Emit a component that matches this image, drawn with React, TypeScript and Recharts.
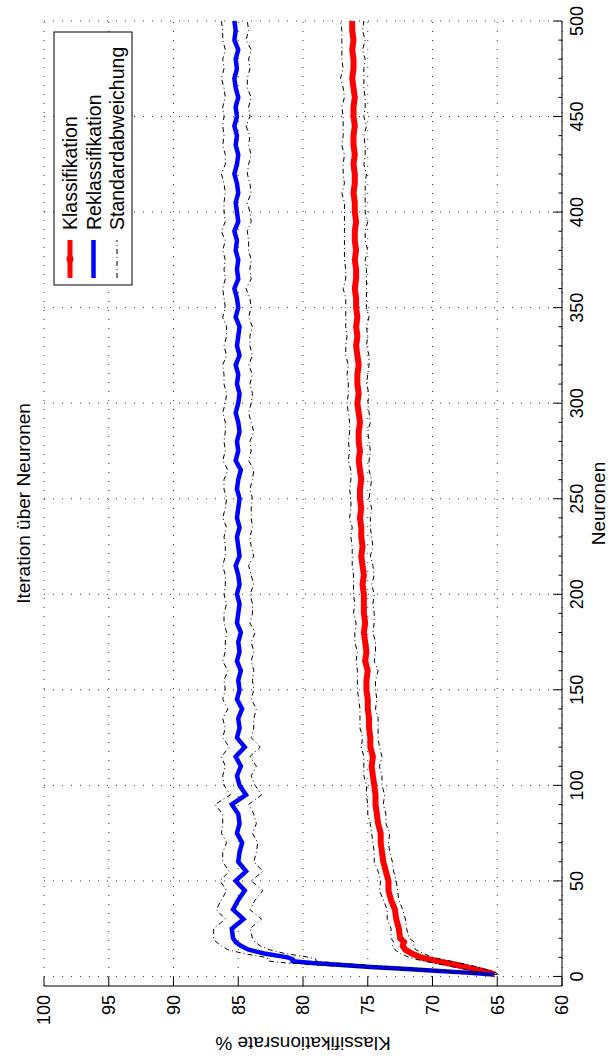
import React from "react";
import { CartesianGrid, Line, LineChart, XAxis, YAxis } from "recharts";

// Neuronen (x) values
const neurons = [
  1, 2, 3, 4, 5, 6, 7, 8, 9, 10, 12, 14, 16, 18, 20,
  25, 30, 35, 40, 45, 50, 55, 60, 65, 70, 75, 80, 85, 90, 95, 100,
  105, 110, 115, 120, 125, 130, 135, 140, 145, 150,
  155, 160, 165, 170, 175, 180, 185, 190, 195, 200,
  205, 210, 215, 220, 225, 230, 235, 240, 245, 250,
  255, 260, 265, 270, 275, 280, 285, 290, 295, 300,
  305, 310, 315, 320, 325, 330, 335, 340, 345, 350,
  355, 360, 365, 370, 375, 380, 385, 390, 395, 400,
  405, 410, 415, 420, 425, 430, 435, 440, 445, 450,
  455, 460, 465, 470, 475, 480, 485, 490, 495, 500,
];

// Klassifikation (red)
const klassifikation = [
  65.2, 65.6, 66.2, 66.9, 67.5, 68.1, 68.9, 69.6, 70.3, 70.9, 71.6, 72.1, 72.3, 72.2, 72.5,
  72.6, 72.8, 72.9, 73.2, 73.4, 73.4, 73.6, 73.8, 73.9, 74.0, 74.0, 74.2, 74.3, 74.4, 74.4, 74.5,
  74.6, 74.7, 74.6, 74.8, 74.8, 74.9, 74.9, 75.0, 75.0, 75.1,
  75.1, 75.0, 75.2, 75.1, 75.2, 75.3, 75.2, 75.3, 75.3, 75.3,
  75.4, 75.3, 75.4, 75.5, 75.4, 75.5, 75.5, 75.6, 75.5, 75.6,
  75.6, 75.5, 75.6, 75.7, 75.6, 75.7, 75.7, 75.6, 75.7, 75.8,
  75.7, 75.8, 75.8, 75.7, 75.8, 75.9, 75.8, 75.9, 75.8, 75.9,
  75.9, 76.0, 75.9, 75.9, 76.0, 75.9, 76.0, 76.0, 75.9, 76.0,
  76.0, 76.1, 76.0, 76.0, 76.1, 76.0, 76.1, 76.1, 76.0, 76.1,
  76.1, 76.0, 76.1, 76.2, 76.1, 76.1, 76.2, 76.1, 76.2, 76.2,
];

// Reklassifikation (blue)
const reklassifikation = [
  65.3, 67.4, 69.8, 72.3, 74.8, 77.0, 79.3, 80.8, 80.8, 81.2, 83.0, 84.2, 84.8, 85.2, 85.4,
  85.5, 84.6, 85.4, 85.0, 84.5, 85.2, 84.4, 85.0, 84.9, 84.7, 85.1, 84.9, 85.0, 85.5, 84.4, 84.9,
  85.1, 84.8, 85.2, 84.5, 85.1, 84.9, 85.0, 84.7, 85.1, 84.9,
  85.0, 84.8, 85.1, 84.9, 85.0, 84.8, 85.1, 85.0, 84.9, 85.1,
  84.9, 85.0, 85.2, 84.9, 85.0, 85.1, 84.9, 85.1, 85.0, 84.9,
  85.1, 85.0, 84.8, 85.2, 85.0, 85.1, 84.9, 85.0, 85.2, 85.0,
  84.9, 85.1, 85.0, 85.2, 84.9, 85.1, 85.0, 84.9, 85.2, 85.0,
  85.1, 85.3, 85.0, 85.1, 85.0, 85.2, 85.1, 85.3, 85.0, 85.1,
  85.2, 85.0, 85.1, 85.3, 85.1, 85.0, 85.2, 85.1, 85.3, 85.1,
  85.2, 85.0, 85.2, 85.3, 85.1, 85.2, 85.0, 85.3, 85.2, 85.3,
];

// Standardabweichung of each run
const stdKlass = [
  0.3, 0.5, 0.7, 0.8, 0.9, 1.0, 1.0, 1.0, 1.0, 0.9, 0.9, 0.8, 0.8, 0.8, 0.7,
  0.6, 0.7, 0.6, 0.6, 0.7, 0.6, 0.6, 0.7, 0.6, 0.6, 0.7, 0.6, 0.7, 0.6, 0.7, 0.6,
  0.7, 0.6, 0.7, 0.7, 0.6, 0.7, 0.7, 0.6, 0.7, 0.7,
  0.7, 0.8, 0.7, 0.7, 0.8, 0.7, 0.7, 0.8, 0.7, 0.8,
  0.7, 0.8, 0.8, 0.7, 0.8, 0.8, 0.7, 0.8, 0.8, 0.7,
  0.8, 0.8, 0.7, 0.8, 0.8, 0.8, 0.7, 0.8, 0.8, 0.8,
  0.8, 0.7, 0.8, 0.8, 0.9, 0.8, 0.8, 0.8, 0.9, 0.8,
  0.8, 0.9, 0.8, 0.8, 0.8, 0.9, 0.8, 0.8, 0.9, 0.8,
  0.8, 0.9, 0.8, 0.9, 0.8, 0.8, 0.9, 0.8, 0.9, 0.8,
  0.9, 0.8, 0.8, 0.9, 0.8, 0.9, 0.8, 0.9, 0.8, 0.9,
];

const stdReklass = [
  0.3, 0.8, 1.2, 1.5, 1.7, 1.8, 1.9, 1.8, 1.8, 1.7, 1.6, 1.6, 1.5, 1.5, 1.5,
  1.4, 1.4, 1.3, 1.3, 1.4, 1.2, 1.3, 1.2, 1.3, 1.2, 1.2, 1.3, 1.2, 1.3, 1.2, 1.2,
  1.1, 1.2, 1.1, 1.2, 1.1, 1.1, 1.2, 1.1, 1.1, 1.1,
  1.1, 1.0, 1.1, 1.1, 1.0, 1.1, 1.0, 1.1, 1.0, 1.0,
  1.1, 1.0, 1.0, 1.1, 1.0, 1.0, 1.0, 1.1, 1.0, 1.0,
  1.0, 1.1, 1.0, 1.0, 1.0, 1.0, 1.1, 1.0, 1.0, 1.0,
  1.0, 1.0, 1.1, 1.0, 1.0, 1.0, 0.9, 1.0, 1.0, 1.0,
  1.0, 0.9, 1.0, 1.0, 1.0, 1.0, 0.9, 1.0, 1.0, 1.0,
  0.9, 1.0, 1.0, 1.0, 0.9, 1.0, 1.0, 1.0, 0.9, 1.0,
  1.0, 1.0, 0.9, 1.0, 1.0, 1.0, 1.0, 0.9, 1.0, 1.0,
];

const xMajorTicks = [0, 50, 100, 150, 200, 250, 300, 350, 400, 450, 500];
const xMinorStep = 10;
const yTicks = [60, 65, 70, 75, 80, 85, 90, 95, 100];
const xDomain = [-5, 500];

const data = neurons.map((n, i) => ({
  n,
  klass: klassifikation[i],
  reklass: reklassifikation[i],
  kHi: +(klassifikation[i] + stdKlass[i]).toFixed(2),
  kLo: +(klassifikation[i] - stdKlass[i]).toFixed(2),
  rHi: +(reklassifikation[i] + stdReklass[i]).toFixed(2),
  rLo: +(reklassifikation[i] - stdReklass[i]).toFixed(2),
}));

const allXTicks: number[] = [];
for (let v = 0; v <= 500; v += xMinorStep) allXTicks.push(v);

// chart is drawn unrotated (W x H) and then turned 90deg counter-clockwise
const W = 1059;
const H = 612;
const FONT = '"Liberation Sans", Arial, Helvetica, sans-serif';
const X_MARGIN = 8;
const Y_MARGIN = 9;
const DASH = "5 3 1 3";

const plotLeft = 73;
const plotRight = W - 21;
const plotTop = 44;
const plotBottom = 562;

function XTick(props: any) {
  const { x, y, payload } = props;
  const v = payload.value as number;
  const major = v % 50 === 0;
  const axisY = y - X_MARGIN;
  return (
    <g>
      <line x1={x} x2={x} y1={axisY} y2={axisY - (major ? 9 : 3.5)} stroke="#000" strokeWidth={1} />
      {major && (
        <text x={x} y={y} dy="0.72em" textAnchor="middle" fontSize={18} fontFamily={FONT} fill="#000">
          {v}
        </text>
      )}
    </g>
  );
}

function YTick(props: any) {
  const { x, y, payload } = props;
  const axisX = x + Y_MARGIN;
  return (
    <g>
      <line x1={axisX} x2={axisX + 9} y1={y} y2={y} stroke="#000" strokeWidth={1} />
      <text x={x} y={y} dy="0.36em" textAnchor="end" fontSize={18} fontFamily={FONT} fill="#000">
        {payload.value}
      </text>
    </g>
  );
}

function Legend() {
  const rows = [
    { label: "Klassifikation", color: "#ff0000", width: 5, dash: undefined as string | undefined, dot: true },
    { label: "Reklassifikation", color: "#0000ff", width: 4.5, dash: undefined, dot: false },
    { label: "Standardabweichung", color: "#000", width: 1, dash: DASH, dot: false },
  ];
  return (
    <g>
      <rect x={774} y={54} width={253} height={78} fill="#fff" stroke="#000" strokeWidth={1} />
      {rows.map((r, i) => {
        const cy = 70 + i * 23.5;
        return (
          <g key={r.label}>
            <line x1={781} x2={819} y1={cy} y2={cy} stroke={r.color} strokeWidth={r.width} strokeDasharray={r.dash} />
            {r.dot && <circle cx={800} cy={cy} r={3.5} fill={r.color} />}
            <text x={829} y={cy} dy="0.36em" fontSize={19.5} fontFamily={FONT} fill="#000">
              {r.label}
            </text>
          </g>
        );
      })}
    </g>
  );
}

function gridX(p: any) {
  const scale = p?.xAxis?.scale;
  return xMajorTicks.map((v) => {
    if (typeof scale === "function") return scale(v);
    if (scale && typeof scale.map === "function") return scale.map(v);
    return plotLeft + ((v - xDomain[0]) / (xDomain[1] - xDomain[0])) * (plotRight - plotLeft);
  });
}

export default function App() {
  const cx = (plotLeft + plotRight) / 2;
  const cy = (plotTop + plotBottom) / 2;

  return (
    <div style={{ position: "absolute", left: 0, top: 0, width: H, height: W, overflow: "hidden", background: "#fff" }}>
      <div
        style={{
          position: "absolute",
          left: 0,
          top: 0,
          width: W,
          height: H,
          transformOrigin: "0 0",
          transform: `translate(0px, ${W}px) rotate(-90deg)`,
        }}
      >
        <LineChart
          width={W}
          height={H}
          data={data}
          margin={{ top: plotTop, right: W - plotRight, left: plotLeft - 60, bottom: H - plotBottom - 40 }}
        >
          <CartesianGrid stroke="#333" strokeDasharray="1 8" fill="none" verticalCoordinatesGenerator={gridX} />
          <XAxis
            dataKey="n"
            type="number"
            domain={xDomain}
            ticks={allXTicks}
            interval={0}
            height={40}
            tickSize={0}
            tickMargin={X_MARGIN}
            tickLine={false}
            axisLine={{ stroke: "#000", strokeWidth: 1 }}
            tick={<XTick />}
          />
          <YAxis
            type="number"
            domain={[60, 100]}
            ticks={yTicks}
            interval={0}
            width={60}
            tickSize={0}
            tickMargin={Y_MARGIN}
            tickLine={false}
            axisLine={{ stroke: "#000", strokeWidth: 1 }}
            tick={<YTick />}
          />
          <Line type="linear" dataKey="klass" stroke="#ff0000" strokeWidth={6} dot={false} isAnimationActive={false} />
          <Line type="linear" dataKey="reklass" stroke="#0000ff" strokeWidth={4.5} dot={false} isAnimationActive={false} />
          <Line type="linear" dataKey="kHi" stroke="#000" strokeWidth={1} strokeDasharray={DASH} dot={false} isAnimationActive={false} />
          <Line type="linear" dataKey="kLo" stroke="#000" strokeWidth={1} strokeDasharray={DASH} dot={false} isAnimationActive={false} />
          <Line type="linear" dataKey="rHi" stroke="#000" strokeWidth={1} strokeDasharray={DASH} dot={false} isAnimationActive={false} />
          <Line type="linear" dataKey="rLo" stroke="#000" strokeWidth={1} strokeDasharray={DASH} dot={false} isAnimationActive={false} />
        </LineChart>
        <svg width={W} height={H} style={{ position: "absolute", left: 0, top: 0, pointerEvents: "none" }}>
          <Legend />
          <text x={cx} y={30} textAnchor="middle" fontSize={19} fontFamily={FONT} fill="#000">
            Iteration über Neuronen
          </text>
          <text x={cx} y={605} textAnchor="middle" fontSize={19} fontFamily={FONT} fill="#000">
            Neuronen
          </text>
          <text
            transform={`translate(22, ${cy}) rotate(-90)`}
            textAnchor="middle"
            fontSize={19}
            fontFamily={FONT}
            fill="#000"
          >
            Klassifikationsrate %
          </text>
        </svg>
      </div>
    </div>
  );
}
